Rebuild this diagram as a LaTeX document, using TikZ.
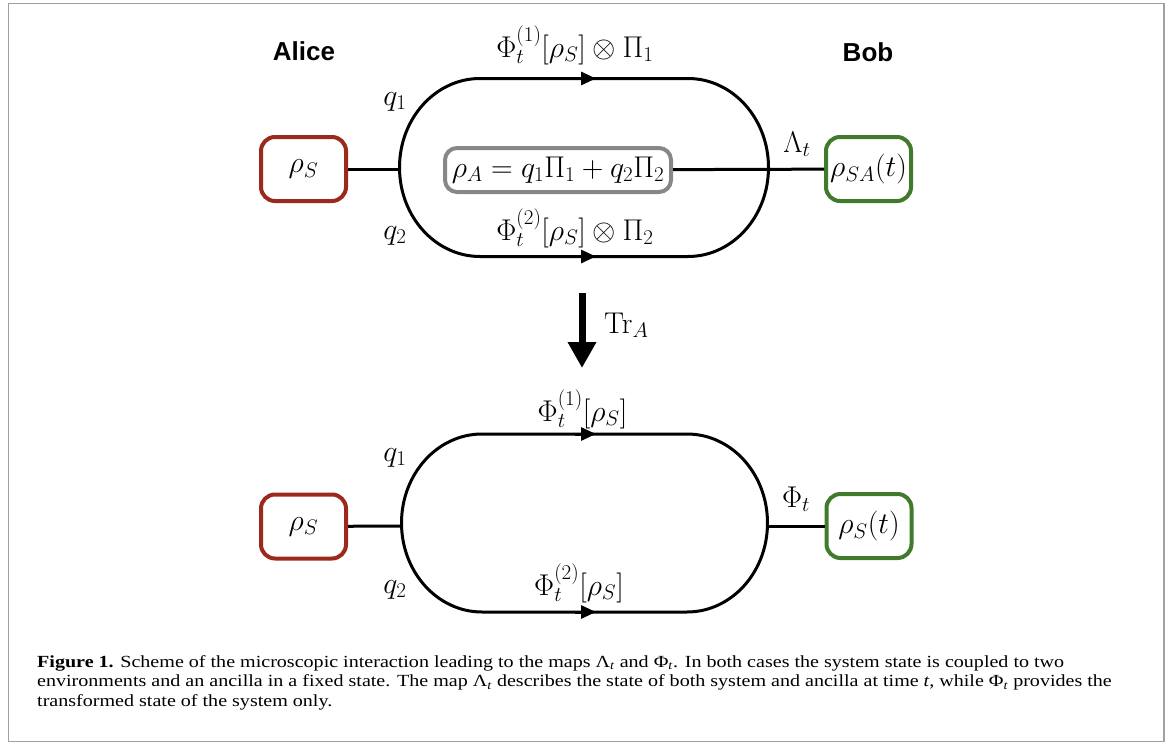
\RequirePackage{fix-cm}
\documentclass[tikz,border=0pt]{standalone}
\usepackage{amsmath}
\usepackage[no-math]{fontspec}
\newfontfamily\capfont[FakeStretch=1.18]{Liberation Serif}
\newfontfamily\headfont{Liberation Sans}
\usetikzlibrary{arrows.meta}
\definecolor{boxred}{HTML}{9C2A1C}
\definecolor{boxgreen}{HTML}{427A2B}
\definecolor{boxgray}{HTML}{878787}
\definecolor{framegray}{HTML}{A0A0A0}
\tikzset{
  statebox/.style={draw, line width=4pt, rounded corners=14pt, minimum width=85pt, minimum height=64pt, inner sep=0pt},
  redbox/.style={statebox, draw=boxred},
  greenbox/.style={statebox, draw=boxgreen},
  ancilla/.style={draw=boxgray, line width=4pt, rounded corners=12pt, minimum width=226pt, minimum height=44pt, inner sep=0pt},
  wire/.style={line width=3pt},
  flowtip/.style={line width=3pt, -{Triangle[length=15pt,width=13pt]}},
  lbl/.style={anchor=base, inner sep=0pt},
  head/.style={font=\headfont\bfseries\fontsize{26}{30}\selectfont, inner sep=0pt},
  captext/.style={anchor=base west, inner sep=0pt, font=\capfont\fontsize{17}{19}\selectfont}
}
\begin{document}
\begin{tikzpicture}[x=1pt,y=-1pt,font=\fontsize{30}{36}\selectfont]
\useasboundingbox (0,0) rectangle (1171,744);
\draw[framegray, line width=1.5pt] (8.5,3.5) rectangle (1164,741.5);

% headings
\node[head] (alice) at (304,51.5) {Alice};
\node[head] (bob) at (868,52.5) {Bob};

% ---------- top diagram ----------
\node[redbox] (S1) at (303.5,169) {$\rho_S$};
\node[ancilla] (A) at (558,170) {$\rho_A = q_1\Pi_1 + q_2\Pi_2$};
\node[greenbox] (SA) at (868.5,169) {$\rho_{SA}(t)$};
\coordinate (in1) at (399.5,169);
\draw[wire] (480,78.5) -- (688,78.5)
  arc[start angle=90, end angle=-90, x radius=80.5pt, y radius=89pt]
  -- (480,256.5)
  arc[start angle=270, end angle=90, x radius=80.5pt, y radius=89pt] -- cycle;
\draw[wire] (S1) -- (in1);
\draw[wire] (A) -- (SA);
\draw[flowtip] (575,78.5) -- (596,78.5);
\draw[flowtip] (575,256.5) -- (596,256.5);
\node[lbl] (t1) at (575,57) {$\Phi_t^{(1)}[\rho_S]\otimes\Pi_1$};
\node[lbl] (t2) at (575,240) {$\Phi_t^{(2)}[\rho_S]\otimes\Pi_2$};
\node[lbl] (q1a) at (395,105) {$q_1$};
\node[lbl] (q2a) at (395,239) {$q_2$};
\node[lbl] (lam) at (797,152) {$\Lambda_t$};

% ---------- trace arrow ----------
\coordinate (trs) at (582,293);
\coordinate (tre) at (582,368);
\draw[line width=7pt, -{Triangle[length=26pt,width=27pt]}] (trs) -- (tre);
\node[anchor=base west, inner sep=0pt] (tr) at (604,333) {$\mathrm{Tr}_A$};

% ---------- bottom diagram ----------
\node[redbox] (S2) at (303.5,526.5) {$\rho_S$};
\node[greenbox] (SB) at (869,526) {$\rho_S(t)$};
\coordinate (in2) at (401.5,526);
\coordinate (out2) at (767.5,526);
\draw[wire] (482,434) -- (687,434)
  arc[start angle=90, end angle=-90, x radius=80.5pt, y radius=89pt]
  -- (482,612)
  arc[start angle=270, end angle=90, x radius=80.5pt, y radius=89pt] -- cycle;
\draw[wire] (S2) -- (in2);
\draw[wire] (out2) -- (SB);
\draw[flowtip] (575,434) -- (596,434);
\draw[flowtip] (575,612) -- (596,612);
\node[lbl] (b1) at (582.5,421) {$\Phi_t^{(1)}[\rho_S]$};
\node[lbl] (b2) at (579,595) {$\Phi_t^{(2)}[\rho_S]$};
\node[lbl] (q1b) at (395,461) {$q_1$};
\node[lbl] (q2b) at (395,593) {$q_2$};
\node[lbl] (phi) at (796,507) {$\Phi_t$};

% ---------- caption ----------
\node[captext] (c1) at (37,667) {\textbf{Figure 1.} Scheme of the microscopic interaction leading to the maps Λ\textsubscript{\textit{t}} and Φ\textsubscript{\textit{t}}. In both cases the system state is coupled to two};
\node[captext] (c2) at (37,686.5) {environments and an ancilla in a fixed state. The map Λ\textsubscript{\textit{t}} describes the state of both system and ancilla at time \textit{t}, while Φ\textsubscript{\textit{t}} provides the};
\node[captext] (c3) at (37,706) {transformed state of the system only.};
\end{tikzpicture}
\end{document}
